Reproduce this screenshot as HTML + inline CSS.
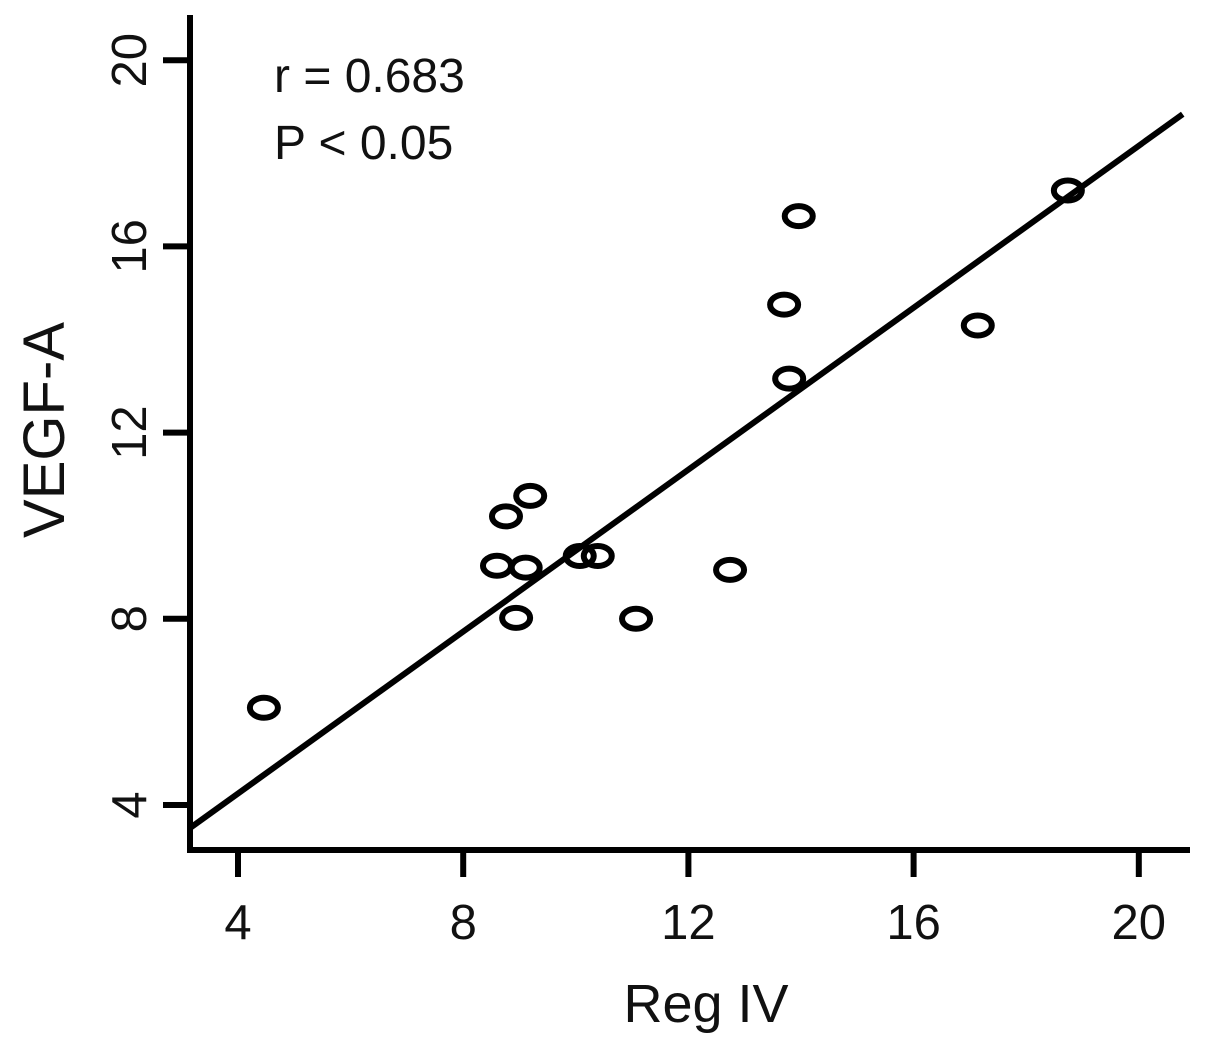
<!DOCTYPE html>
<html><head><meta charset="utf-8"><style>
html,body{margin:0;padding:0;background:#fff}
svg{display:block;font-family:"Liberation Sans",Arial,sans-serif}
</style></head><body>
<svg id="chart" width="1205" height="1049" viewBox="0 0 1205 1049">
<g id="axes"></g><g id="marks"></g>
<text x="274" y="92" font-size="48" fill="#111">r = 0.683</text>
<text x="274" y="159" font-size="48" fill="#111">P &lt; 0.05</text>
<text x="706" y="1022" font-size="54" fill="#111" text-anchor="middle">Reg IV</text>
<text transform="translate(64,430) rotate(-90)" font-size="58" fill="#111" text-anchor="middle">VEGF-A</text>
</svg>
<script>
const xTicks=[4,8,12,16,20];
const yTicks=[4,8,12,16,20];
const xValues=[4.46,8.76,9.19,8.6,9.11,8.94,10.07,10.39,11.07,12.74,13.7,13.96,13.79,17.14,18.74];
const yValues=[6.09,10.2,10.64,9.14,9.1,8.02,9.35,9.35,8.0,9.05,14.75,16.65,13.16,14.3,17.2];
const fitIntercept=0.768, fitSlope=0.8697;
const fitRange=[3.147,20.78];
const NS="http://www.w3.org/2000/svg";
const X=v=>238+(v-4)*56.3;
const Y=v=>805-(v-4)*46.55;
function mk(tag,attrs,parent){const e=document.createElementNS(NS,tag);for(const k in attrs)e.setAttribute(k,attrs[k]);parent.appendChild(e);return e;}
const axes=document.getElementById('axes'),marks=document.getElementById('marks');
let e=mk('line',{x1:190,y1:15,x2:190,y2:853,stroke:'#000','stroke-width':6},axes);


e=mk('line',{x1:187,y1:850,x2:1190,y2:850,stroke:'#000','stroke-width':6},axes);


xTicks.forEach(t=>{
 let l=mk('line',{x1:X(t),y1:850,x2:X(t),y2:877,stroke:'#000','stroke-width':6},axes);
 
 
 let tx=mk('text',{x:X(t),y:939,'font-size':49,'text-anchor':'middle',fill:'#111'},axes);tx.textContent=t;
 
 
});
yTicks.forEach(t=>{
 let l=mk('line',{x1:163,y1:Y(t),x2:190,y2:Y(t),stroke:'#000','stroke-width':6},axes);
 
 
 let tx=mk('text',{transform:`translate(146,${Y(t)}) rotate(-90)`,'font-size':49,'text-anchor':'middle',fill:'#111'},axes);tx.textContent=t;
 
 
});
let fl=mk('line',{x1:X(fitRange[0]),y1:Y(fitIntercept+fitSlope*fitRange[0]),x2:X(fitRange[1]),y2:Y(fitIntercept+fitSlope*fitRange[1]),stroke:'#000','stroke-width':6},marks);


xValues.forEach((v,i)=>{
 let c=mk('ellipse',{cx:X(v),cy:Y(yValues[i]),rx:14,ry:10,fill:'none',stroke:'#000','stroke-width':6},marks);
 
 
});
</script>
</body></html>
